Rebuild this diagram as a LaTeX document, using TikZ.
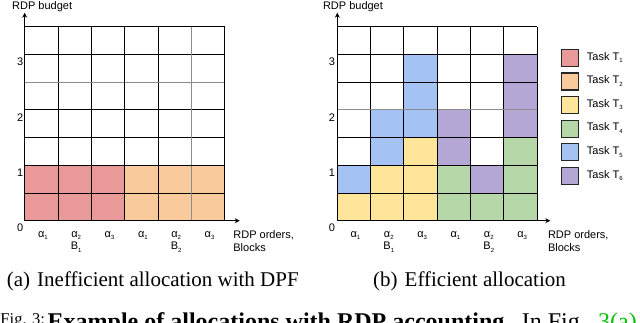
\documentclass[tikz,border=0pt]{standalone}
\usepackage{fontspec}
\setmainfont{Liberation Serif}
\setsansfont{Liberation Sans}
\usetikzlibrary{arrows.meta}
\definecolor{cpink}{HTML}{EA9999}
\definecolor{corng}{HTML}{F9CB9C}
\definecolor{cylw}{HTML}{FFE599}
\definecolor{cgrn}{HTML}{B6D7A8}
\definecolor{cblu}{HTML}{A4C2F4}
\definecolor{cpur}{HTML}{B4A7D6}
\definecolor{refgreen}{HTML}{00C000}
\newcommand{\lsub}[1]{\raisebox{-0.45ex}{\fontsize{6}{6}\selectfont #1}}
\def\cw{33.333}
\def\rh{27.714}
\def\yb{220.7}
\begin{document}
\begin{tikzpicture}[x=1pt,y=-1pt,
  lbl/.style={font=\sffamily\fontsize{11}{13}\selectfont, inner sep=0pt},
  capt/.style={font=\rmfamily\fontsize{21}{24}\selectfont, inner sep=0pt, anchor=base west},
  figl/.style={font=\rmfamily\fontsize{24}{28}\selectfont, inner sep=0pt, anchor=base west},
  thinl/.style={line width=0.95pt, black},
  grayl/.style={line width=0.95pt, black!45},
  thickl/.style={line width=1.4pt, black},
  axisl/.style={line width=1.4pt, black, -{Stealth[length=5pt,width=5pt]}},
  legbox/.style={draw=black!85, line width=1.2pt, minimum size=17pt, inner sep=0pt}]
\path[use as bounding box, clip] (0,0) rectangle (640,323);

% ---------- panel (a) ----------
\begin{scope}[shift={(24.7,0)}]
  \foreach \c in {0,1,2}{\foreach \r in {0,1}{
    \fill[cpink] (\c*\cw,{\yb-\r*\rh}) rectangle ({(\c+1)*\cw},{\yb-(\r+1)*\rh});}}
  \foreach \c in {3,4,5}{\foreach \r in {0,1}{
    \fill[corng] (\c*\cw,{\yb-\r*\rh}) rectangle ({(\c+1)*\cw},{\yb-(\r+1)*\rh});}}
  \foreach \r in {1,3,4,6}{\draw[thinl] (0,{\yb-\r*\rh}) -- (6*\cw,{\yb-\r*\rh});}
  \foreach \c in {1,2,4}{\draw[thinl] (\c*\cw,\yb) -- (\c*\cw,{\yb-7*\rh});}
  \draw[grayl] (0,{\yb-5*\rh}) -- (6*\cw,{\yb-5*\rh});
  \draw[grayl] (5*\cw,\yb) -- (5*\cw,{\yb-7*\rh});
  \foreach \r in {2,7}{\draw[thickl] (0,{\yb-\r*\rh}) -- (6*\cw,{\yb-\r*\rh});}
  \foreach \c in {3,6}{\draw[thickl] (\c*\cw,\yb) -- (\c*\cw,{\yb-7*\rh});}
  \coordinate (ao) at (0,\yb);
  \coordinate (ay) at (0,12.7);
  \coordinate (ax) at (215,\yb);
  \draw[axisl] (ao) -- (ay);
  \draw[axisl] (ao) -- (ax);
  \node[lbl, anchor=base west] (ayl) at (-12.7,9.3) {RDP budget};
  \node[lbl, anchor=base west] (axl1) at (208.5,238.6) {RDP orders,};
  \node[lbl, anchor=base west] (axl2) at (208.5,251.6) {Blocks};
  \node[lbl, anchor=north east] (t0) at (-1.2,{\yb+2.5}) {0};
  \node[lbl, anchor=north east] (t1) at (-1.2,{\yb-2*\rh+3.5}) {1};
  \node[lbl, anchor=north east] (t2) at (-1.2,{\yb-4*\rh+3.5}) {2};
  \node[lbl, anchor=north east] (t3) at (-1.2,{\yb-6*\rh+3.5}) {3};
  \node[lbl, anchor=base] (a1) at ({0.5*\cw+1.5},237) {α\lsub{1}};
  \node[lbl, anchor=base] (a2) at ({1.5*\cw+1.5},237) {α\lsub{2}};
  \node[lbl, anchor=base] (a3) at ({2.5*\cw+1.5},237) {α\lsub{3}};
  \node[lbl, anchor=base] (a4) at ({3.5*\cw+1.5},237) {α\lsub{1}};
  \node[lbl, anchor=base] (a5) at ({4.5*\cw+1.5},237) {α\lsub{2}};
  \node[lbl, anchor=base] (a6) at ({5.5*\cw+1.5},237) {α\lsub{3}};
  \node[lbl, anchor=base] (b1) at ({1.5*\cw+1.5},249.5) {B\lsub{1}};
  \node[lbl, anchor=base] (b2) at ({4.5*\cw+1.5},249.5) {B\lsub{2}};
\end{scope}

% ---------- panel (b) ----------
\begin{scope}[shift={(337.3,0)}]
  \foreach \c/\r/\col in {0/0/cylw,1/0/cylw,2/0/cylw,3/0/cgrn,4/0/cgrn,5/0/cgrn,
      0/1/cblu,1/1/cylw,2/1/cylw,3/1/cgrn,4/1/cpur,5/1/cgrn,
      1/2/cblu,2/2/cylw,3/2/cpur,5/2/cgrn,
      1/3/cblu,2/3/cblu,3/3/cpur,5/3/cpur,
      2/4/cblu,5/4/cpur,
      2/5/cblu,5/5/cpur}{
    \fill[\col] (\c*\cw,{\yb-\r*\rh}) rectangle ({(\c+1)*\cw},{\yb-(\r+1)*\rh});}
  \foreach \r in {1,3,5,6}{\draw[thinl] (0,{\yb-\r*\rh}) -- (6*\cw,{\yb-\r*\rh});}
  \foreach \c in {1,2,4,5}{\draw[thinl] (\c*\cw,\yb) -- (\c*\cw,{\yb-7*\rh});}
  \draw[grayl] (0,{\yb-4*\rh}) -- (6*\cw,{\yb-4*\rh});
  \foreach \r in {2,7}{\draw[thickl] (0,{\yb-\r*\rh}) -- (6*\cw,{\yb-\r*\rh});}
  \foreach \c in {3,6}{\draw[thickl] (\c*\cw,\yb) -- (\c*\cw,{\yb-7*\rh});}
  \coordinate (bo) at (0,\yb);
  \coordinate (by) at (0,12.7);
  \coordinate (bx) at (213,\yb);
  \draw[axisl] (bo) -- (by);
  \draw[axisl] (bo) -- (bx);
  \node[lbl, anchor=base west] (byl) at (-14.5,9.3) {RDP budget};
  \node[lbl, anchor=base west] (bxl1) at (210.5,238.6) {RDP orders,};
  \node[lbl, anchor=base west] (bxl2) at (210.5,251.6) {Blocks};
  \node[lbl, anchor=north east] (u0) at (-2.2,{\yb+2.5}) {0};
  \node[lbl, anchor=north east] (u1) at (-2.2,{\yb-2*\rh+3.5}) {1};
  \node[lbl, anchor=north east] (u2) at (-2.2,{\yb-4*\rh+3.5}) {2};
  \node[lbl, anchor=north east] (u3) at (-2.2,{\yb-6*\rh+3.5}) {3};
  \node[lbl, anchor=base] (c1) at ({0.5*\cw+1.5},237) {α\lsub{1}};
  \node[lbl, anchor=base] (c2) at ({1.5*\cw+1.5},237) {α\lsub{2}};
  \node[lbl, anchor=base] (c3) at ({2.5*\cw+1.5},237) {α\lsub{3}};
  \node[lbl, anchor=base] (c4) at ({3.5*\cw+1.5},237) {α\lsub{1}};
  \node[lbl, anchor=base] (c5) at ({4.5*\cw+1.5},237) {α\lsub{2}};
  \node[lbl, anchor=base] (c6) at ({5.5*\cw+1.5},237) {α\lsub{3}};
  \node[lbl, anchor=base] (d1) at ({1.5*\cw+1.5},249.5) {B\lsub{1}};
  \node[lbl, anchor=base] (d2) at ({4.5*\cw+1.5},249.5) {B\lsub{2}};
\end{scope}

% ---------- legend ----------
\foreach \k/\col in {1/cpink,2/corng,3/cylw,4/cgrn,5/cblu,6/cpur}{
  \node[legbox, fill=\col] (lg\k) at (569.8,{58+(\k-1)*23.6}) {};
  \node[lbl, anchor=west] (lt\k) at (586.7,{57.5+(\k-1)*23.6}) {Task T\lsub{\k}};
}

% ---------- captions ----------
\node[capt] (capa) at (6.7,287) {(a)\hspace{7pt}Inefficient allocation with DPF};
\node[capt] (capb) at (373,287) {(b)\hspace{7pt}Efficient allocation};
\node[inner sep=0pt, anchor=base west, font=\rmfamily\fontsize{16.5}{20}\selectfont] (fig1) at (0.3,324) {Fig. 3:};
\node[inner sep=0pt, anchor=base west, font=\rmfamily\bfseries\fontsize{24}{28}\selectfont] (fig2) at (47.5,329) {Example of allocations with RDP accounting.};
\node[figl] (fig3) at (521.7,329) {In Fig.};
\node[figl, text=refgreen] (fig4) at (598,329) {3(a)};
\end{tikzpicture}
\end{document}
